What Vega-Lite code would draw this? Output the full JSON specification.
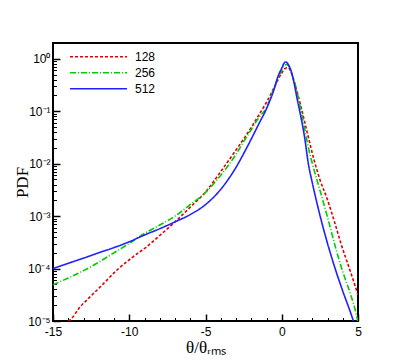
{
  "$schema": "https://vega.github.io/schema/vega-lite/v6.json",
  "width": 305,
  "height": 278,
  "autosize": {"type": "none"},
  "padding": {"left": 53, "top": 43, "right": 49, "bottom": 41},
  "background": "white",
  "config": {
    "view": {"stroke": "black", "strokeWidth": 2},
    "axis": {"grid": false, "domain": false, "tickColor": "black", "labelColor": "black", "titleColor": "black"}
  },
  "resolve": {"axis": {"x": "independent", "y": "independent"}},
  "data": {
    "values": [
      {"N": "128", "x": -14.0, "pdf": 1.0e-5},
      {"N": "128", "x": -13.88, "pdf": 1.05e-5},
      {"N": "128", "x": -13.22, "pdf": 1.86e-5},
      {"N": "128", "x": -12.57, "pdf": 2.88e-5},
      {"N": "128", "x": -11.9, "pdf": 4.47e-5},
      {"N": "128", "x": -10.81, "pdf": 9.33e-5},
      {"N": "128", "x": -9.72, "pdf": 1.70e-4},
      {"N": "128", "x": -8.8, "pdf": 2.69e-4},
      {"N": "128", "x": -7.96, "pdf": 4.37e-4},
      {"N": "128", "x": -7.09, "pdf": 7.33e-4},
      {"N": "128", "x": -6.0, "pdf": 1.48e-3},
      {"N": "128", "x": -5.0, "pdf": 2.88e-3},
      {"N": "128", "x": -4.0, "pdf": 7.08e-3},
      {"N": "128", "x": -3.0, "pdf": 0.0182},
      {"N": "128", "x": -2.5, "pdf": 0.0295},
      {"N": "128", "x": -2.0, "pdf": 0.049},
      {"N": "128", "x": -1.5, "pdf": 0.0851},
      {"N": "128", "x": -1.0, "pdf": 0.148},
      {"N": "128", "x": -0.5, "pdf": 0.282},
      {"N": "128", "x": 0.0, "pdf": 0.537},
      {"N": "128", "x": 0.2, "pdf": 0.646},
      {"N": "128", "x": 0.4, "pdf": 0.676},
      {"N": "128", "x": 0.6, "pdf": 0.575},
      {"N": "128", "x": 0.8, "pdf": 0.38},
      {"N": "128", "x": 1.03, "pdf": 0.221},
      {"N": "128", "x": 1.25, "pdf": 0.126},
      {"N": "128", "x": 1.5, "pdf": 0.0631},
      {"N": "128", "x": 1.75, "pdf": 0.0316},
      {"N": "128", "x": 2.12, "pdf": 0.0117},
      {"N": "128", "x": 2.5, "pdf": 5.01e-3},
      {"N": "128", "x": 3.0, "pdf": 2.04e-3},
      {"N": "128", "x": 3.5, "pdf": 7.08e-4},
      {"N": "128", "x": 3.88, "pdf": 3.02e-4},
      {"N": "128", "x": 4.54, "pdf": 8.13e-5},
      {"N": "128", "x": 5.0, "pdf": 3.16e-5},

      {"N": "256", "x": -15.0, "pdf": 4.9e-5},
      {"N": "256", "x": -14.0, "pdf": 6.61e-5},
      {"N": "256", "x": -13.0, "pdf": 9.12e-5},
      {"N": "256", "x": -12.0, "pdf": 1.32e-4},
      {"N": "256", "x": -11.0, "pdf": 2.0e-4},
      {"N": "256", "x": -10.0, "pdf": 3.02e-4},
      {"N": "256", "x": -9.0, "pdf": 4.68e-4},
      {"N": "256", "x": -8.0, "pdf": 6.76e-4},
      {"N": "256", "x": -7.0, "pdf": 1.0e-3},
      {"N": "256", "x": -6.0, "pdf": 1.66e-3},
      {"N": "256", "x": -5.0, "pdf": 2.82e-3},
      {"N": "256", "x": -4.0, "pdf": 6.03e-3},
      {"N": "256", "x": -3.0, "pdf": 0.0151},
      {"N": "256", "x": -2.5, "pdf": 0.0263},
      {"N": "256", "x": -2.0, "pdf": 0.0447},
      {"N": "256", "x": -1.5, "pdf": 0.0759},
      {"N": "256", "x": -1.0, "pdf": 0.117},
      {"N": "256", "x": -0.5, "pdf": 0.282},
      {"N": "256", "x": -0.2, "pdf": 0.468},
      {"N": "256", "x": 0.0, "pdf": 0.603},
      {"N": "256", "x": 0.15, "pdf": 0.724},
      {"N": "256", "x": 0.3, "pdf": 0.776},
      {"N": "256", "x": 0.45, "pdf": 0.724},
      {"N": "256", "x": 0.7, "pdf": 0.468},
      {"N": "256", "x": 0.92, "pdf": 0.295},
      {"N": "256", "x": 1.0, "pdf": 0.234},
      {"N": "256", "x": 1.25, "pdf": 0.107},
      {"N": "256", "x": 1.5, "pdf": 0.0468},
      {"N": "256", "x": 1.75, "pdf": 0.02},
      {"N": "256", "x": 2.0, "pdf": 0.0102},
      {"N": "256", "x": 2.5, "pdf": 3.16e-3},
      {"N": "256", "x": 3.0, "pdf": 9.55e-4},
      {"N": "256", "x": 3.5, "pdf": 2.69e-4},
      {"N": "256", "x": 4.0, "pdf": 8.71e-5},
      {"N": "256", "x": 4.5, "pdf": 3.31e-5},
      {"N": "256", "x": 4.87, "pdf": 1.41e-5},
      {"N": "256", "x": 4.98, "pdf": 1.0e-5},

      {"N": "512", "x": -15.0, "pdf": 1.0e-4},
      {"N": "512", "x": -14.0, "pdf": 1.26e-4},
      {"N": "512", "x": -13.0, "pdf": 1.58e-4},
      {"N": "512", "x": -12.0, "pdf": 2.0e-4},
      {"N": "512", "x": -11.0, "pdf": 2.51e-4},
      {"N": "512", "x": -10.0, "pdf": 3.24e-4},
      {"N": "512", "x": -9.0, "pdf": 4.37e-4},
      {"N": "512", "x": -8.0, "pdf": 5.75e-4},
      {"N": "512", "x": -7.0, "pdf": 7.76e-4},
      {"N": "512", "x": -6.0, "pdf": 1.07e-3},
      {"N": "512", "x": -5.0, "pdf": 1.66e-3},
      {"N": "512", "x": -4.0, "pdf": 3.24e-3},
      {"N": "512", "x": -3.0, "pdf": 8.51e-3},
      {"N": "512", "x": -2.5, "pdf": 0.0155},
      {"N": "512", "x": -2.0, "pdf": 0.0295},
      {"N": "512", "x": -1.5, "pdf": 0.0575},
      {"N": "512", "x": -1.0, "pdf": 0.112},
      {"N": "512", "x": -0.5, "pdf": 0.263},
      {"N": "512", "x": -0.2, "pdf": 0.501},
      {"N": "512", "x": 0.0, "pdf": 0.661},
      {"N": "512", "x": 0.1, "pdf": 0.776},
      {"N": "512", "x": 0.25, "pdf": 0.871},
      {"N": "512", "x": 0.45, "pdf": 0.759},
      {"N": "512", "x": 0.6, "pdf": 0.603},
      {"N": "512", "x": 0.8, "pdf": 0.355},
      {"N": "512", "x": 1.0, "pdf": 0.178},
      {"N": "512", "x": 1.25, "pdf": 0.0794},
      {"N": "512", "x": 1.5, "pdf": 0.0316},
      {"N": "512", "x": 1.75, "pdf": 9.77e-3},
      {"N": "512", "x": 2.0, "pdf": 4.37e-3},
      {"N": "512", "x": 2.5, "pdf": 1.05e-3},
      {"N": "512", "x": 3.0, "pdf": 3.02e-4},
      {"N": "512", "x": 3.5, "pdf": 1.0e-4},
      {"N": "512", "x": 4.0, "pdf": 3.72e-5},
      {"N": "512", "x": 4.5, "pdf": 1.48e-5},
      {"N": "512", "x": 4.7, "pdf": 1.0e-5}
    ]
  },
  "layer": [
    {
      "mark": {"type": "line", "clip": true, "strokeWidth": 1.6, "interpolate": "monotone"},
      "encoding": {
        "x": {
          "field": "x", "type": "quantitative",
          "scale": {"domain": [-15, 5], "nice": false, "zero": false},
          "axis": {
            "orient": "bottom", "values": [-15, -10, -5, 0, 5],
            "tickSize": -7, "tickWidth": 1.5,
            "labelExpr": "'' + datum.value",
            "labelFont": "Liberation Sans", "labelFontSize": 12, "labelPadding": 12,
            "labelFlush": false,
            "title": "θ/θᵣₘₛ", "titleFont": "Liberation Serif", "titleFontSize": 17,
            "titleFontWeight": "normal", "titlePadding": 2
          }
        },
        "y": {
          "field": "pdf", "type": "quantitative",
          "scale": {"type": "log", "domain": [1e-5, 2], "nice": false},
          "axis": {
            "orient": "left", "values": [1e-5, 1e-4, 1e-3, 1e-2, 1e-1, 1],
            "tickSize": -7, "tickWidth": 1.5,
            "labelExpr": "'10' + ['⁰','⁻¹','⁻²','⁻³','⁻⁴','⁻⁵'][round(-log(datum.value)/LN10)]",
            "labelFont": "Liberation Sans", "labelFontSize": 12, "labelPadding": 10,
            "labelFlush": false,
            "title": "PDF", "titleFont": "Liberation Serif", "titleFontSize": 17,
            "titleFontWeight": "normal", "titlePadding": -4
          }
        },
        "color": {
          "field": "N", "type": "nominal",
          "scale": {"domain": ["128", "256", "512"], "range": ["#e00000", "#00cc00", "#2020ff"]},
          "legend": {
            "title": null, "orient": "none", "legendX": 16, "legendY": 6, "padding": 0,
            "symbolType": "stroke", "symbolSize": 3249, "symbolStrokeWidth": 1.6,
            "clipHeight": 15.5, "rowPadding": 0,
            "labelFont": "Liberation Sans", "labelFontSize": 12, "labelOffset": 7, "labelColor": "black"
          }
        },
        "strokeDash": {
          "field": "N", "type": "nominal",
          "scale": {"domain": ["128", "256", "512"], "range": [[3, 2], [6, 2, 1, 2], [1, 0]]},
          "legend": {
            "title": null, "orient": "none", "legendX": 16, "legendY": 6, "padding": 0,
            "symbolType": "stroke", "symbolSize": 3249, "symbolStrokeWidth": 1.6,
            "clipHeight": 15.5, "rowPadding": 0,
            "labelFont": "Liberation Sans", "labelFontSize": 12, "labelOffset": 7, "labelColor": "black"
          }
        }
      }
    },
    {
      "mark": {"type": "point", "opacity": 0},
      "encoding": {
        "x": {
          "field": "x", "type": "quantitative",
          "axis": {
            "orient": "bottom",
            "values": [-14, -13, -12, -11, -9, -8, -7, -6, -4, -3, -2, -1, 1, 2, 3, 4],
            "tickSize": -3.5, "tickWidth": 1, "labels": false, "title": null
          }
        },
        "y": {
          "field": "pdf", "type": "quantitative",
          "axis": {
            "orient": "left",
            "values": [2e-5, 3e-5, 4e-5, 5e-5, 6e-5, 7e-5, 8e-5, 9e-5,
                       2e-4, 3e-4, 4e-4, 5e-4, 6e-4, 7e-4, 8e-4, 9e-4,
                       2e-3, 3e-3, 4e-3, 5e-3, 6e-3, 7e-3, 8e-3, 9e-3,
                       2e-2, 3e-2, 4e-2, 5e-2, 6e-2, 7e-2, 8e-2, 9e-2,
                       0.2, 0.3, 0.4, 0.5, 0.6, 0.7, 0.8, 0.9],
            "tickSize": -3.5, "tickWidth": 1, "labels": false, "title": null
          }
        }
      }
    }
  ]
}
